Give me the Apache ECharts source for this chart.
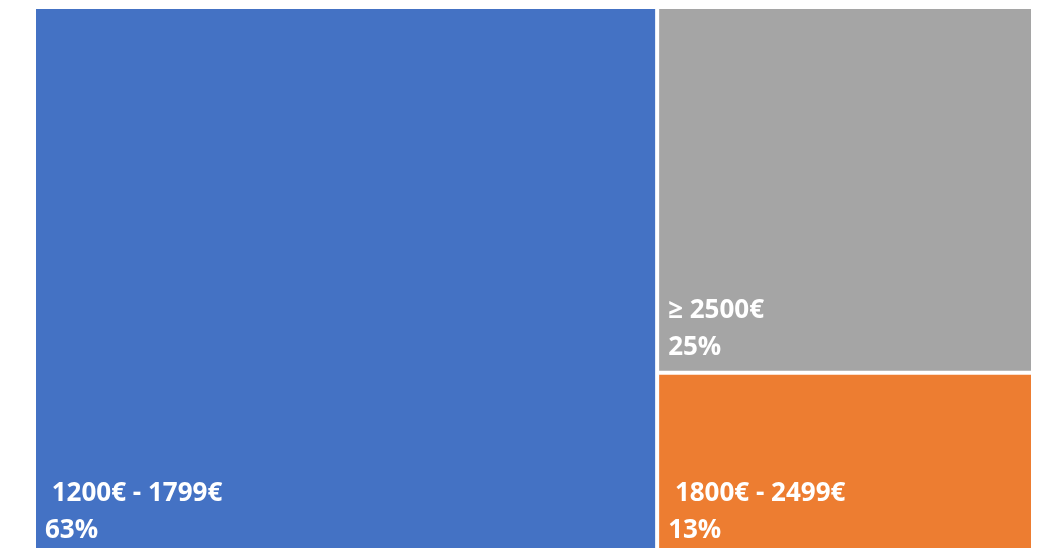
<!DOCTYPE html>
<html><head><meta charset="utf-8">
<script src="https://cdn.jsdelivr.net/npm/echarts@6/dist/echarts.min.js"></script>
<style>html,body{margin:0;padding:0;background:#fff}#c{width:1048px;height:548px}</style>
</head><body><div id="c"></div>
<script>
const categories = [' 1200€ - 1799€', '≥ 2500€', ' 1800€ - 2499€'];
const values = [63, 25, 13];
const colors = ['#4472C4', '#A5A5A5', '#ED7D31'];
const labelBottomPad = [12, 5, 12];

const chart = echarts.init(document.getElementById('c'), null, {renderer: 'canvas'});
chart.setOption({
  animation: false,
  series: [{
    type: 'treemap',
    left: 36, top: 9, width: 995, height: 552,
    roam: false, nodeClick: false,
    breadcrumb: {show: false},
    levels: [
      {itemStyle: {gapWidth: 4, borderWidth: 0, borderColor: '#fff'}},
      {itemStyle: {borderWidth: 0, gapWidth: 0}}
    ],
    label: {
      show: true,
      position: 'insideBottomLeft',
      color: '#fff',
      fontFamily: 'Open Sans',
      fontWeight: 'bold',
      fontSize: 26,
      lineHeight: 37,
      formatter: p => p.name + '\n' + p.value + '%'
    },
    upperLabel: {show: false},
    data: categories.map((n, i) => ({
      name: n, value: values[i],
      itemStyle: {color: colors[i]},
      label: {padding: [0, 0, labelBottomPad[i], 9]}
    }))
  }]
});
</script></body></html>
